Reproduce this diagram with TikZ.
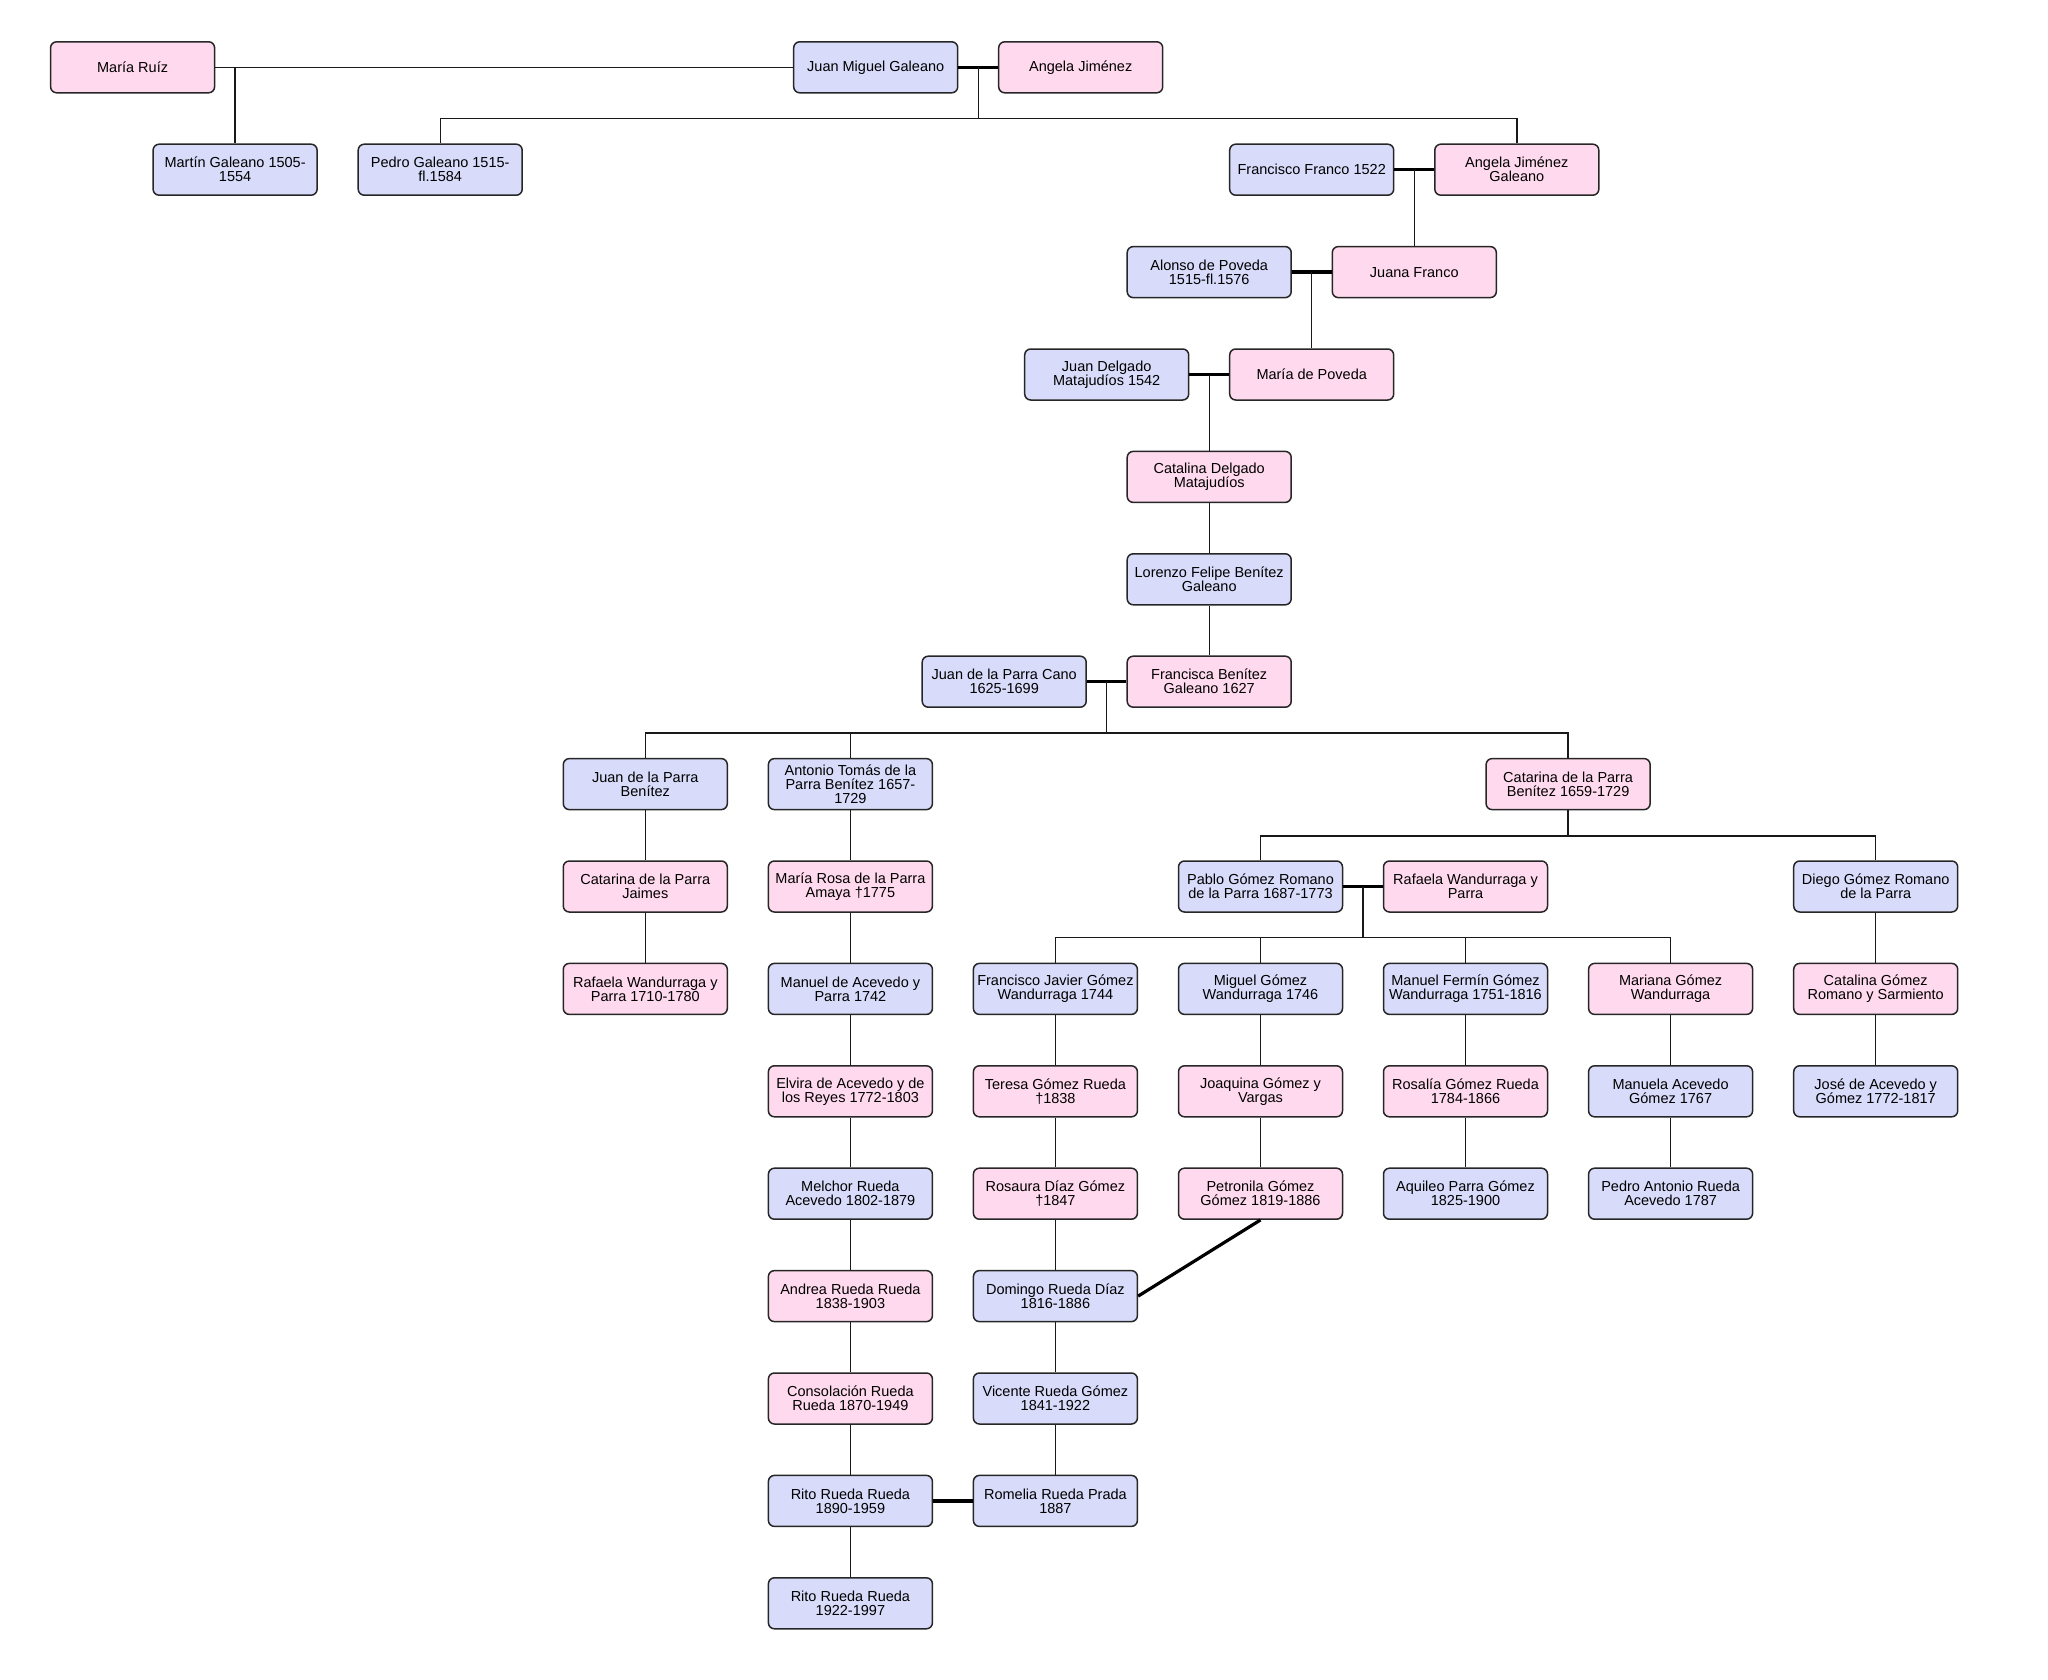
\documentclass[tikz,border=0pt]{standalone}
\usepackage{fontspec}
\setmainfont{Liberation Sans}
\usetikzlibrary{calc}
\begin{document}
\begin{tikzpicture}[x=1pt,y=-1pt,
  person/.style={rectangle, rounded corners=6pt, draw=black!85, line width=1.5pt,
    minimum width=164pt, minimum height=51pt, inner sep=0pt, align=center,
    font=\fontsize{14.5}{14}\selectfont},
  fem/.style={person, fill=pinkfill},
  mal/.style={person, fill=bluefill},
  thin/.style={draw=black!90, line width=1.4pt},
  thick/.style={draw=black, line width=3.2pt}
]
\definecolor{pinkfill}{HTML}{FFDAEE}
\definecolor{bluefill}{HTML}{D8DCFA}
\fill[white] (0,0) rectangle (2048,1680);
\useasboundingbox (0,0) rectangle (2048,1680);

% row 0
\node[fem] (MariaRuiz) at (132.6,67.3) {María Ruíz};
\node[mal] (JuanMiguel) at (875.7,67.3) {Juan Miguel Galeano};
\node[fem] (AngelaJ) at (1080.7,67.3) {Angela Jiménez};
% row 1
\node[mal] (Martin) at (235.1,169.7) {Martín Galeano 1505-\\1554};
\node[mal] (Pedro) at (440.2,169.7) {Pedro Galeano 1515-\\fl.1584};
\node[mal] (FFranco) at (1311.7,169.7) {Francisco Franco 1522};
\node[fem] (AngelaJG) at (1516.8,169.7) {Angela Jiménez\\Galeano};
% row 2
\node[mal] (Alonso) at (1209.2,272.1) {Alonso de Poveda\\1515-fl.1576};
\node[fem] (Juana) at (1414.3,272.1) {Juana Franco};
% row 3
\node[mal] (JuanDelgado) at (1106.7,374.5) {Juan Delgado\\Matajudíos 1542};
\node[fem] (MariaPoveda) at (1311.7,374.5) {María de Poveda};
% row 4-6
\node[fem] (CatalinaDM) at (1209.2,476.9) {Catalina Delgado\\Matajudíos};
\node[mal] (Lorenzo) at (1209.2,579.3) {Lorenzo Felipe Benítez\\Galeano};
\node[mal] (JuanPC) at (1004.2,681.7) {Juan de la Parra Cano\\1625-1699};
\node[fem] (Francisca) at (1209.2,681.7) {Francisca Benítez\\Galeano 1627};
% row 7
\node[mal] (JPB) at (645.3,784.1) {Juan de la Parra\\Benítez};
\node[mal] (Antonio) at (850.4,784.1) {Antonio Tomás de la\\Parra Benítez 1657-\\1729};
\node[fem] (CatarinaPB) at (1568.1,784.1) {Catarina de la Parra\\Benítez 1659-1729};
% row 8
\node[fem] (CatarinaPJ) at (645.3,886.5) {Catarina de la Parra\\Jaimes};
\node[fem] (MariaRosa) at (850.4,886.5) {María Rosa de la Parra\\Amaya †1775};
\node[mal] (Pablo) at (1260.5,886.5) {Pablo Gómez Romano\\de la Parra 1687-1773};
\node[fem] (RafaelaWP) at (1465.5,886.5) {Rafaela Wandurraga y\\Parra};
\node[mal] (Diego) at (1875.7,886.5) {Diego Gómez Romano\\de la Parra};
% row 9
\node[fem] (RafaelaW) at (645.3,988.9) {Rafaela Wandurraga y\\Parra 1710-1780};
\node[mal] (ManuelAc) at (850.4,988.9) {Manuel de Acevedo y\\Parra 1742};
\node[mal] (FJavier) at (1055.4,988.9) {Francisco Javier Gómez\\Wandurraga 1744};
\node[mal] (Miguel) at (1260.5,988.9) {Miguel Gómez\\Wandurraga 1746};
\node[mal] (ManuelF) at (1465.5,988.9) {Manuel Fermín Gómez\\Wandurraga 1751-1816};
\node[fem] (Mariana) at (1670.6,988.9) {Mariana Gómez\\Wandurraga};
\node[fem] (CatalinaGRS) at (1875.7,988.9) {Catalina Gómez\\Romano y Sarmiento};
% row 10
\node[fem] (Elvira) at (850.4,1091.3) {Elvira de Acevedo y de\\los Reyes 1772-1803};
\node[fem] (Teresa) at (1055.4,1091.3) {Teresa Gómez Rueda\\†1838};
\node[fem] (Joaquina) at (1260.5,1091.3) {Joaquina Gómez y\\Vargas};
\node[fem] (Rosalia) at (1465.5,1091.3) {Rosalía Gómez Rueda\\1784-1866};
\node[mal] (Manuela) at (1670.6,1091.3) {Manuela Acevedo\\Gómez 1767};
\node[mal] (Jose) at (1875.7,1091.3) {José de Acevedo y\\Gómez 1772-1817};
% row 11
\node[mal] (Melchor) at (850.4,1193.7) {Melchor Rueda\\Acevedo 1802-1879};
\node[fem] (Rosaura) at (1055.4,1193.7) {Rosaura Díaz Gómez\\†1847};
\node[fem] (Petronila) at (1260.5,1193.7) {Petronila Gómez\\Gómez 1819-1886};
\node[mal] (Aquileo) at (1465.5,1193.7) {Aquileo Parra Gómez\\1825-1900};
\node[mal] (PedroAnt) at (1670.6,1193.7) {Pedro Antonio Rueda\\Acevedo 1787};
% row 12
\node[fem] (Andrea) at (850.4,1296.1) {Andrea Rueda Rueda\\1838-1903};
\node[mal] (Domingo) at (1055.4,1296.1) {Domingo Rueda Díaz\\1816-1886};
% row 13
\node[fem] (Consolacion) at (850.4,1398.5) {Consolación Rueda\\Rueda 1870-1949};
\node[mal] (Vicente) at (1055.4,1398.5) {Vicente Rueda Gómez\\1841-1922};
% row 14
\node[mal] (Rito1) at (850.4,1500.9) {Rito Rueda Rueda\\1890-1959};
\node[mal] (Romelia) at (1055.4,1500.9) {Romelia Rueda Prada\\1887};
% row 15
\node[mal] (Rito2) at (850.4,1603.3) {Rito Rueda Rueda\\1922-1997};

% ---- connectors ----
% Maria Ruiz & Juan Miguel
\draw[thin] (MariaRuiz.east) -- (JuanMiguel.west);
\coordinate (mr) at (Martin.north |- MariaRuiz.east);
\draw[thin] (mr) -- (Martin.north);
% Juan Miguel & Angela Jimenez
\draw[thick] (JuanMiguel.east) -- (AngelaJ.west);
\coordinate (jm) at ($(JuanMiguel.east)!0.5!(AngelaJ.west)$);
\coordinate (jmb) at ($(jm)+(0,51.2)$);
\coordinate (jmL) at (Pedro.north |- jmb);
\coordinate (jmR) at (AngelaJG.north |- jmb);
\draw[thin] (jm) -- (jmb);
\draw[thin] (Pedro.north) -- (jmL) -- (jmR) -- (AngelaJG.north);
% Francisco Franco & Angela JG
\draw[thick] (FFranco.east) -- (AngelaJG.west);
\draw[thin] (Juana.north |- AngelaJG.west) -- (Juana.north);
% Alonso & Juana
\draw[thick] (Alonso.east) -- (Juana.west);
\draw[thin] (MariaPoveda.north |- Juana.west) -- (MariaPoveda.north);
% Juan Delgado & Maria de Poveda
\draw[thick] (JuanDelgado.east) -- (MariaPoveda.west);
\draw[thin] (CatalinaDM.north |- MariaPoveda.west) -- (CatalinaDM.north);
\draw[thin] (CatalinaDM.south) -- (Lorenzo.north);
\draw[thin] (Lorenzo.south) -- (Francisca.north);
% Juan de la Parra Cano & Francisca
\draw[thick] (JuanPC.east) -- (Francisca.west);
\coordinate (pc) at ($(JuanPC.east)!0.5!(Francisca.west)$);
\coordinate (pcb) at ($(pc)+(0,51.2)$);
\draw[thin] (pc) -- (pcb);
\draw[thin] (JPB.north) -- (JPB.north |- pcb) -- (CatarinaPB.north |- pcb) -- (CatarinaPB.north);
\draw[thin] (Antonio.north |- pcb) -- (Antonio.north);
% Catarina PB children
\coordinate (cpb) at ($(CatarinaPB.south)+(0,25.7)$);
\draw[thin] (CatarinaPB.south) -- (cpb);
\draw[thin] (Pablo.north) -- (Pablo.north |- cpb) -- (Diego.north |- cpb) -- (Diego.north);
% Pablo & Rafaela
\draw[thick] (Pablo.east) -- (RafaelaWP.west);
\coordinate (pr) at ($(Pablo.east)!0.5!(RafaelaWP.west)$);
\coordinate (prb) at ($(pr)+(0,51.2)$);
\draw[thin] (pr) -- (prb);
\draw[thin] (FJavier.north) -- (FJavier.north |- prb) -- (Mariana.north |- prb) -- (Mariana.north);
\draw[thin] (Miguel.north |- prb) -- (Miguel.north);
\draw[thin] (ManuelF.north |- prb) -- (ManuelF.north);
% chains
\draw[thin] (JPB.south) -- (CatarinaPJ.north);
\draw[thin] (CatarinaPJ.south) -- (RafaelaW.north);
\draw[thin] (Antonio.south) -- (MariaRosa.north);
\draw[thin] (MariaRosa.south) -- (ManuelAc.north);
\draw[thin] (ManuelAc.south) -- (Elvira.north);
\draw[thin] (Elvira.south) -- (Melchor.north);
\draw[thin] (Melchor.south) -- (Andrea.north);
\draw[thin] (Andrea.south) -- (Consolacion.north);
\draw[thin] (Consolacion.south) -- (Rito1.north);
\draw[thin] (Rito1.south) -- (Rito2.north);
\draw[thin] (Diego.south) -- (CatalinaGRS.north);
\draw[thin] (CatalinaGRS.south) -- (Jose.north);
\draw[thin] (FJavier.south) -- (Teresa.north);
\draw[thin] (Teresa.south) -- (Rosaura.north);
\draw[thin] (Rosaura.south) -- (Domingo.north);
\draw[thin] (Domingo.south) -- (Vicente.north);
\draw[thin] (Vicente.south) -- (Romelia.north);
\draw[thin] (Miguel.south) -- (Joaquina.north);
\draw[thin] (Joaquina.south) -- (Petronila.north);
\draw[thin] (ManuelF.south) -- (Rosalia.north);
\draw[thin] (Rosalia.south) -- (Aquileo.north);
\draw[thin] (Mariana.south) -- (Manuela.north);
\draw[thin] (Manuela.south) -- (PedroAnt.north);
% spouse links
\draw[thick] (Petronila.south) -- (Domingo.east);
\draw[thick] (Rito1.east) -- (Romelia.west);
\end{tikzpicture}
\end{document}
